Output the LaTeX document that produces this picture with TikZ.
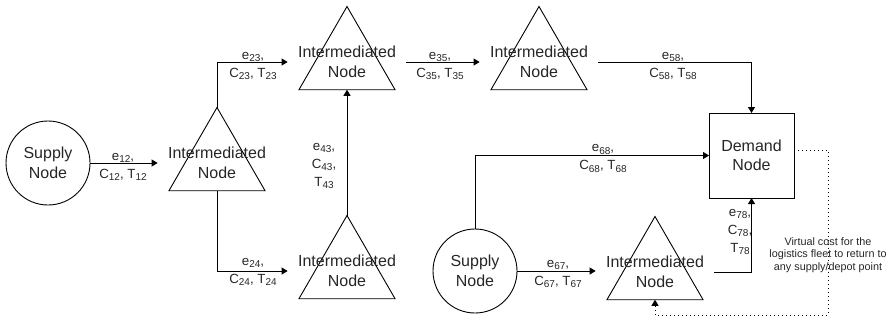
\documentclass[tikz,border=0pt]{standalone}
\usepackage{fontspec}
\setmainfont{Liberation Sans}
\usetikzlibrary{shapes.geometric,arrows.meta,calc}
% lowered index for edge labels
\newcommand{\sbs}[1]{\raisebox{-2.6pt}{\fontsize{10}{10}\selectfont #1}}
\begin{document}
\begin{tikzpicture}[x=1pt,y=-1pt,line width=0.9pt,
  every node/.style={text=black!85},
  ntext/.style={font=\fontsize{16}{19.5}\selectfont, align=center, inner ysep=0pt, inner xsep=10pt},
  tri/.style={draw, regular polygon, regular polygon sides=3, minimum size=111pt, inner sep=0pt, outer sep=0pt},
  supply/.style={draw, circle, minimum size=84pt, inner sep=0pt, outer sep=0pt, align=center, font=\fontsize{16}{19.5}\selectfont},
  demand/.style={draw, rectangle, minimum size=85pt, inner sep=0pt, outer sep=0pt, align=center, font=\fontsize{16}{19.5}\selectfont},
  lbl/.style={font=\fontsize{13.3}{18}\selectfont, align=center, inner sep=0pt},
  vtext/.style={font=\fontsize{10.8}{12.5}\selectfont, align=center, inner sep=0pt},
  conn/.style={draw=black, -{Triangle[length=6pt,width=7pt]}},
  virt/.style={conn, dash pattern=on 1pt off 3pt}]

\useasboundingbox (0,0) rectangle (890,322);

% supply nodes
\node[supply] (s1) at (48,163) {Supply\\Node};
\node[supply] (s2) at (475,271) {Supply\\Node};

% intermediated nodes: triangle outline plus its text
\node[tri] (t2) at (217,163) {};
\node[ntext] (n2) at (217,163) {Intermediated\\Node};
\node[tri] (t3) at (347,62) {};
\node[ntext] (n3) at (347,62) {Intermediated\\Node};
\node[tri] (t4) at (347,271) {};
\node[ntext] (n4) at (347,271) {Intermediated\\Node};
\node[tri] (t5) at (539,62) {};
\node[ntext] (n5) at (539,62) {Intermediated\\Node};
\node[tri] (t7) at (655,272) {};
\node[ntext] (n7) at (655,272) {Intermediated\\Node};

% demand node
\node[demand] (d) at (751.5,155.5) {Demand\\Node};

% connectors
\draw[conn] (s1.east) -- (n2.west);
\draw[conn] (t2.corner 1) |- (n3.west);
\draw[conn] (t2.side 2) |- (n4.west);
\draw[conn] (t4.corner 1) -- (t3.side 2);
\draw[conn] (n3.east) -- (n5.west);
\draw[conn] (n5.east) -| (d.north);
\draw[conn] (s2.north) |- (d.west);
\draw[conn] (s2.east) -- (s2.east -| n7.west);
\draw[conn] (n7.east) -| (d.south);

% virtual return link
\coordinate (vr) at (828,315);
\draw[virt] ($(d.east)+(0,-5.5)$) -| (vr) -| (t7.side 2);

% edge labels
\node[lbl] (l12) at (123,167) {e\sbs{12},\\C\sbs{12}, T\sbs{12}};
\node[lbl] (l23) at (253,66) {e\sbs{23},\\C\sbs{23}, T\sbs{23}};
\node[lbl] (l35) at (440,66) {e\sbs{35},\\C\sbs{35}, T\sbs{35}};
\node[lbl] (l58) at (673,66) {e\sbs{58},\\C\sbs{58}, T\sbs{58}};
\node[lbl] (l24) at (253,272) {e\sbs{24},\\C\sbs{24}, T\sbs{24}};
\node[lbl] (l68) at (603,158.6) {e\sbs{68},\\C\sbs{68}, T\sbs{68}};
\node[lbl] (l67) at (558,274) {e\sbs{67},\\C\sbs{67}, T\sbs{67}};
\node[lbl] (l43) at (324,166) {e\sbs{43},\\C\sbs{43},\\T\sbs{43}};
\node[lbl] (l78) at (740,232) {e\sbs{78},\\C\sbs{78},\\T\sbs{78}};

\node[vtext] (vt) at (828,255) {Virtual cost for the\\logistics fleet to return to\\any supply/depot point};
\end{tikzpicture}
\end{document}
